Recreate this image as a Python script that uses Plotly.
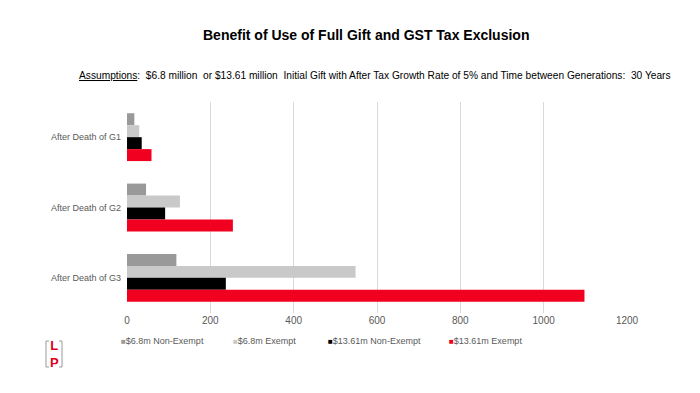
import plotly.graph_objects as go

categories = ["After Death of G1", "After Death of G2", "After Death of G3"]
series_names = ["$6.8m Non-Exempt", "$6.8m Exempt", "$13.61m Non-Exempt", "$13.61m Exempt"]
nonexempt_68 = [17.6, 45.7, 118.5]
exempt_68 = [29.4, 127.0, 548.6]
nonexempt_1361 = [35.3, 91.5, 237.2]
exempt_1361 = [58.8, 254.1, 1097.9]
x_ticks = [0, 200, 400, 600, 800, 1000, 1200]

series_values = [nonexempt_68, exempt_68, nonexempt_1361, exempt_1361]
colors = ["#999999", "#c9c9c9", "#000000", "#f2001f"]

FONT = "Liberation Sans, Arial, sans-serif"

fig = go.Figure()
for name, vals, col in zip(series_names, series_values, colors):
    fig.add_trace(go.Bar(
        y=categories, x=vals, name=name, orientation="h",
        marker=dict(color=col, line=dict(width=0)),
    ))

OFF = 8  # page body margin
W, H = 700, 393
# target screen geometry of the plot area
PL, PR, PT, PB = 127, 627, 102, 313
L = PL - OFF
T = PT - OFF
R = W - (PR - OFF)
B = H - (PB - OFF)
pw = PR - PL
ph = PB - PT

def px_x(px):
    return (px - PL) / pw

def px_y(py):
    return 1 - (py - PT) / ph

annotations = [
    dict(text="<b>Benefit of Use of Full Gift and GST Tax Exclusion</b>",
         xref="paper", yref="paper", x=px_x(366), y=px_y(35),
         xanchor="center", yanchor="middle", showarrow=False,
         font=dict(size=14, color="#000000", family=FONT)),
    dict(text="<u>Assumptions</u>:  $6.8 million  or $13.61 million  Initial Gift with After Tax Growth Rate of 5% and Time between Generations:  30 Years",
         xref="paper", yref="paper", x=px_x(375), y=px_y(75),
         xanchor="center", yanchor="middle", showarrow=False,
         font=dict(size=10.2, color="#000000", family=FONT)),
    dict(text="<b>L<br>P</b>", xref="paper", yref="paper",
         x=px_x(54), y=px_y(354), xanchor="center", yanchor="middle",
         showarrow=False, font=dict(size=13, color="#e0001b", family=FONT)),
]

legend_x = [119, 231, 326, 447]
for name, col, lx in zip(series_names, colors, legend_x):
    annotations.append(dict(
        text=f"<span style='color:{col};font-size:8px'>■</span>{name}",
        xref="paper", yref="paper", x=px_x(lx), y=px_y(341),
        xanchor="left", yanchor="middle", showarrow=False,
        font=dict(size=9, color="#595959", family=FONT)))

fig.update_layout(
    width=W, height=H,
    margin=dict(l=L, r=R, t=T, b=B),
    paper_bgcolor="white", plot_bgcolor="white",
    font=dict(family=FONT, color="#595959", size=10),
    barmode="group", bargap=0.32, bargroupgap=0,
    showlegend=False,
    xaxis=dict(
        range=[0, 1200], tickvals=x_ticks, showgrid=True, gridcolor="#d9d9d9",
        gridwidth=1, zeroline=False, showline=False, ticks="",
        tickfont=dict(size=10, color="#595959"), automargin=False,
    ),
    yaxis=dict(
        autorange="reversed", showgrid=False, zeroline=False, showline=False,
        ticks="", ticksuffix="  ", tickfont=dict(size=9, color="#595959"),
        automargin=False,
    ),
    annotations=annotations,
    shapes=[
        dict(type="path", xref="paper", yref="paper",
             path=f"M {px_x(49)},{px_y(341)} L {px_x(46)},{px_y(341)} L {px_x(46)},{px_y(367)} L {px_x(49)},{px_y(367)}",
             line=dict(color="#999999", width=1)),
        dict(type="path", xref="paper", yref="paper",
             path=f"M {px_x(59)},{px_y(341)} L {px_x(62)},{px_y(341)} L {px_x(62)},{px_y(367)} L {px_x(59)},{px_y(367)}",
             line=dict(color="#999999", width=1)),
    ],
)

fig.write_html("out.html")
